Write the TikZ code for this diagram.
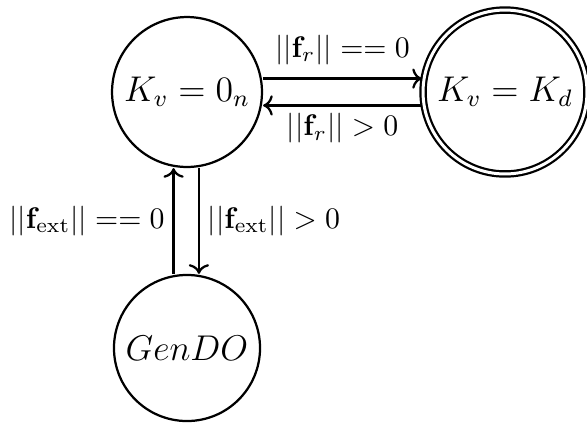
\documentclass[tikz,border=0pt]{standalone}
\usepackage{amsmath}
\usepackage{tikz}
\usetikzlibrary{arrows.meta,positioning}

\begin{document}
\begin{tikzpicture}[
  x=0.3355pt, y=-0.3355pt,
  state/.style={circle, draw, line width=0.75pt, inner sep=0pt, minimum size=50.3pt, font=\large},
  accept/.style={state, double, double distance=1pt, minimum size=55pt},
  arrow/.style={->, line width=0.75pt},
  lbl/.style={inner sep=2.6pt}
]
\useasboundingbox (0,0) rectangle (587,426);
\node[state] (zero) at (187,92) {$K_v = 0_n$};
\node[accept] (kd) at (505,92) {$K_v = K_d$};
\node[state, minimum size=49pt] (gendo) at (187,348) {$GenDO$};

\draw[arrow] ([yshift=4.5pt]zero.east) -- node[lbl, above, inner sep=4.3pt] {$||\mathbf{f}_r|| == 0$} ([yshift=4.5pt]kd.west);
\draw[arrow] ([yshift=-4.5pt]kd.west) -- node[lbl, below, inner sep=2.3pt] {$||\mathbf{f}_r|| > 0$} ([yshift=-4.5pt]zero.east);
\draw[arrow] ([xshift=-4.5pt]gendo.north) -- node[lbl, left] {$||\mathbf{f}_{\mathrm{ext}}|| == 0$} ([xshift=-4.5pt]zero.south);
\draw[arrow] ([xshift=4pt]zero.south) -- node[lbl, right] {$||\mathbf{f}_{\mathrm{ext}}|| > 0$} ([xshift=4pt]gendo.north);
\end{tikzpicture}
\end{document}
